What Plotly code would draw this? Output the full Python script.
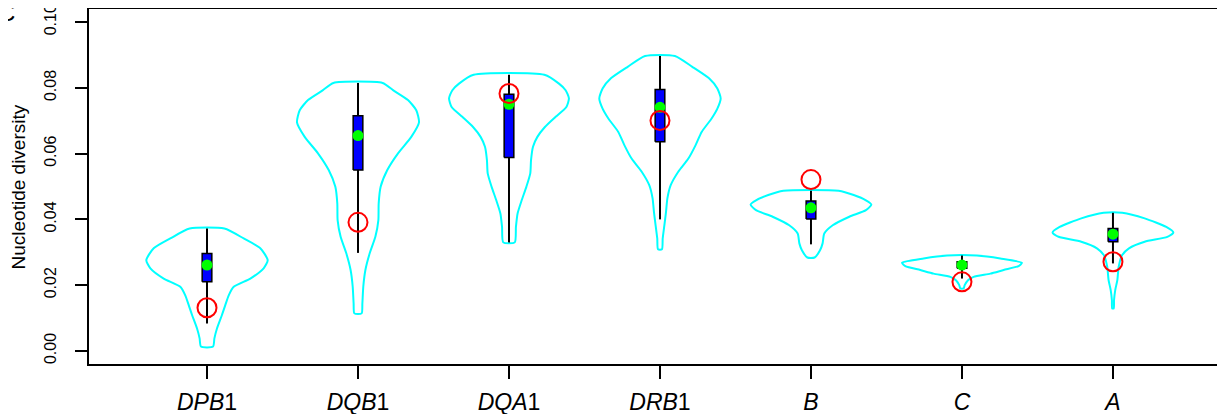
import plotly.graph_objects as go

# ---------------- data ----------------
genes = ["DPB1", "DQB1", "DQA1", "DRB1", "B", "C", "A"]
tick_text = ["<i>DPB</i>1", "<i>DQB</i>1", "<i>DQA</i>1", "<i>DRB</i>1",
             "<i>B</i>", "<i>C</i>", "<i>A</i>"]
y_ticks = [0.00, 0.02, 0.04, 0.06, 0.08, 0.10]

# box-plot summary per gene
whisker_low = [0.0083, 0.0298, 0.0330, 0.0400, 0.0324, 0.0220, 0.0266]
q1 = [0.0210, 0.0550, 0.0588, 0.0636, 0.0401, 0.0251, 0.0332]
q3 = [0.0296, 0.0715, 0.0781, 0.0795, 0.0456, 0.0271, 0.0372]
whisker_high = [0.0372, 0.0815, 0.0840, 0.0897, 0.0487, 0.0290, 0.0420]
green_points = [0.0261, 0.0655, 0.0750, 0.0741, 0.0435, 0.0261, 0.0355]
red_points = [0.0131, 0.0391, 0.0783, 0.0701, 0.0521, 0.0210, 0.0271]

# violin outlines: diversity level and half-width of density (category units)
dpb1_y = [0.0013, 0.0038, 0.0068, 0.0109, 0.0139, 0.0169, 0.0195, 0.0220,
          0.0251, 0.0276, 0.0312, 0.0342, 0.0372]
dpb1_w = [0.040, 0.049, 0.066, 0.099, 0.121, 0.144, 0.177, 0.287,
          0.375, 0.402, 0.353, 0.243, 0.115]
dqb1_y = [0.0114, 0.0144, 0.0195, 0.0246, 0.0296, 0.0347, 0.0398, 0.0448,
          0.0499, 0.0550, 0.0601, 0.0651, 0.0695, 0.0732, 0.0763, 0.0793, 0.0815]
dqb1_w = [0.024, 0.029, 0.035, 0.049, 0.077, 0.115, 0.135, 0.137,
          0.150, 0.194, 0.265, 0.353, 0.404, 0.386, 0.331, 0.232, 0.163]
dqa1_y = [0.0330, 0.0377, 0.0418, 0.0458, 0.0499, 0.0540, 0.0580, 0.0621,
          0.0651, 0.0681, 0.0712, 0.0742, 0.0768, 0.0793, 0.0813, 0.0840]
dqa1_w = [0.038, 0.046, 0.057, 0.084, 0.115, 0.141, 0.146, 0.159,
          0.188, 0.238, 0.309, 0.380, 0.397, 0.375, 0.331, 0.234]
drb1_y = [0.0309, 0.0342, 0.0382, 0.0423, 0.0464, 0.0504, 0.0545, 0.0585,
          0.0626, 0.0666, 0.0707, 0.0737, 0.0768, 0.0798, 0.0829, 0.0864, 0.0897]
drb1_w = [0.013, 0.018, 0.029, 0.040, 0.049, 0.071, 0.121, 0.188,
          0.236, 0.276, 0.342, 0.380, 0.402, 0.380, 0.325, 0.214, 0.099]
b_y = [0.0284, 0.0306, 0.0327, 0.0357, 0.0382, 0.0408, 0.0428, 0.0445,
       0.0458, 0.0474, 0.0487]
b_w = [0.024, 0.060, 0.077, 0.088, 0.144, 0.254, 0.364, 0.400,
       0.364, 0.283, 0.183]
c_y = [0.0190, 0.0200, 0.0215, 0.0225, 0.0235, 0.0246, 0.0258, 0.0268,
       0.0281, 0.0290]
c_w = [0.011, 0.018, 0.040, 0.077, 0.188, 0.276, 0.375, 0.397,
       0.254, 0.099]
a_y = [0.0129, 0.0154, 0.0185, 0.0215, 0.0256, 0.0291, 0.0312, 0.0332,
       0.0347, 0.0360, 0.0377, 0.0403, 0.0420]
a_w = [0.005, 0.007, 0.015, 0.029, 0.038, 0.060, 0.106, 0.210,
       0.360, 0.400, 0.353, 0.210, 0.062]

violin_y = [dpb1_y, dqb1_y, dqa1_y, drb1_y, b_y, c_y, a_y]
violin_w = [dpb1_w, dqb1_w, dqa1_w, drb1_w, b_w, c_w, a_w]

# ---------------- styles ----------------
FONT = "Liberation Sans, Arial, Helvetica, sans-serif"
BOX_HALF = 0.032
positions = list(range(1, len(genes) + 1))

fig = go.Figure()

for i, pos in enumerate(positions):
    ys = violin_y[i]
    ws = violin_w[i]
    xs = [pos - w for w in ws] + [pos + w for w in reversed(ws)] + [pos - ws[0]]
    yy = list(ys) + list(reversed(ys)) + [ys[0]]
    fig.add_trace(go.Scatter(
        x=xs, y=yy, mode="lines",
        line=dict(color="#00FFFF", width=2, shape="spline", smoothing=0.6),
        hoverinfo="skip", showlegend=False))

for i, pos in enumerate(positions):
    fig.add_trace(go.Scatter(
        x=[pos, pos], y=[whisker_low[i], whisker_high[i]], mode="lines",
        line=dict(color="black", width=2), hoverinfo="skip", showlegend=False))
    fig.add_trace(go.Scatter(
        x=[pos - BOX_HALF, pos + BOX_HALF, pos + BOX_HALF, pos - BOX_HALF, pos - BOX_HALF],
        y=[q1[i], q1[i], q3[i], q3[i], q1[i]], mode="lines",
        fill="toself", fillcolor="#0000FF",
        line=dict(color="black", width=1.5), hoverinfo="skip", showlegend=False))

fig.add_trace(go.Scatter(
    x=positions, y=green_points, mode="markers",
    marker=dict(color="#00FF00", size=11, line=dict(width=0)),
    showlegend=False))
fig.add_trace(go.Scatter(
    x=positions, y=red_points, mode="markers",
    marker=dict(symbol="circle-open", color="#FF0000", size=19,
                line=dict(width=2, color="#FF0000")),
    showlegend=False))

fig.update_layout(
    width=1225, height=414,
    margin=dict(l=81, r=0, t=1, b=58, autoexpand=False),
    paper_bgcolor="white", plot_bgcolor="white",
    font=dict(family=FONT, color="black"),
    showlegend=False,
    xaxis=dict(
        range=[0.2185, 7.795], tickmode="array", tickvals=positions,
        ticktext=tick_text, ticks="outside", ticklen=13, tickwidth=2,
        tickcolor="black", showline=True, linewidth=2, linecolor="black",
        mirror=True, showgrid=False, zeroline=False, ticklabelstandoff=3,
        ticklabeloverflow="allow",
        tickfont=dict(size=23, family=FONT)),
    yaxis=dict(
        range=[-0.004, 0.104], tickmode="array", tickvals=y_ticks,
        ticktext=[f"{v:.2f}" for v in y_ticks], ticks="outside", ticklen=12,
        tickwidth=2, tickcolor="black", showline=True, linewidth=2,
        linecolor="black", mirror=False, showgrid=False, zeroline=False,
        tickangle=-90, ticklabelstandoff=13, ticklabeloverflow="allow",
        tickfont=dict(size=16, family=FONT)),
    annotations=[
        dict(text="Nucleotide diversity", xref="paper", yref="paper",
             x=-0.0612, y=0.5, xanchor="center", yanchor="middle",
             textangle=-90, showarrow=False, font=dict(size=19, family=FONT)),
        dict(text="C", xref="paper", yref="paper",
             x=-0.0725, y=0.990, xanchor="center", yanchor="middle",
             showarrow=False, font=dict(size=24, family=FONT)),
    ],
)

fig.write_html("out.html")
